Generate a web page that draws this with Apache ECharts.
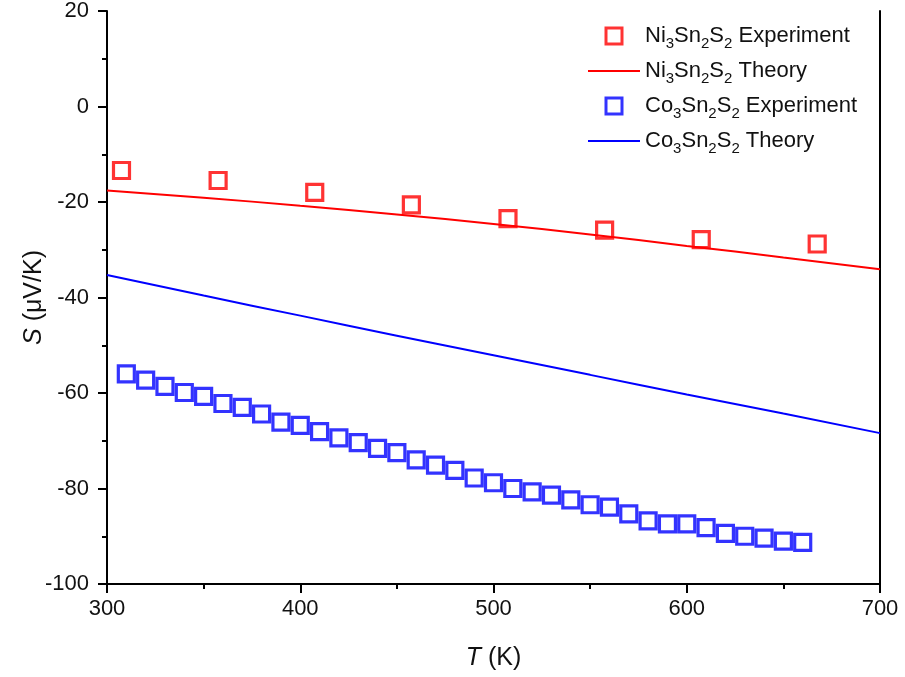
<!DOCTYPE html>
<html>
<head>
<meta charset="utf-8">
<script src="https://cdn.jsdelivr.net/npm/echarts@6/dist/echarts.min.js"></script>
<style>
  html, body { margin: 0; padding: 0; background: #fff; }
  #chart { width: 905px; height: 677px; }
</style>
</head>
<body>
<div id="chart"></div>
<script>
// Seebeck coefficient S (µV/K) versus temperature T (K)
const niExpT = [307.5, 357.5, 407.5, 457.5, 507.5, 557.5, 607.5, 667.5];
const niExpS = [-13.4, -15.5, -18.0, -20.6, -23.5, -25.9, -27.9, -28.8];

const theoryT   = [300, 350, 400, 450, 500, 550, 600, 650, 700];
const niTheoryS = [-17.6, -19.1, -20.8, -22.6, -24.6, -26.8, -29.2, -31.6, -34.1];
const coTheoryS = [-35.3, -39.6, -43.8, -48.0, -52.1, -56.2, -60.3, -64.3, -68.4];

const coExpT = [310, 320, 330, 340, 350, 360, 370, 380, 390, 400, 410, 420,
                430, 440, 450, 460, 470, 480, 490, 500, 510, 520, 530, 540,
                550, 560, 570, 580, 590, 600, 610, 620, 630, 640, 650, 660];
const coExpS = [-56.0, -57.3, -58.6, -59.9, -60.7, -62.2, -63.0, -64.4, -66.1, -66.8, -68.1, -69.4,
                -70.4, -71.6, -72.5, -74.0, -75.1, -76.2, -77.8, -78.8, -80.0, -80.7, -81.4, -82.4,
                -83.4, -83.9, -85.3, -86.8, -87.4, -87.4, -88.2, -89.4, -90.0, -90.4, -91.0, -91.3];

const seriesNames = ['Ni3Sn2S2 Experiment', 'Ni3Sn2S2 Theory', 'Co3Sn2S2 Experiment', 'Co3Sn2S2 Theory'];
const legendLabels = {
  'Ni3Sn2S2 Experiment': '{n|Ni}{s|3}{n|Sn}{s|2}{n|S}{s|2}{n| Experiment}',
  'Ni3Sn2S2 Theory':     '{n|Ni}{s|3}{n|Sn}{s|2}{n|S}{s|2}{n| Theory}',
  'Co3Sn2S2 Experiment': '{n|Co}{s|3}{n|Sn}{s|2}{n|S}{s|2}{n| Experiment}',
  'Co3Sn2S2 Theory':     '{n|Co}{s|3}{n|Sn}{s|2}{n|S}{s|2}{n| Theory}'
};

const RED = '#ff0000';
const BLUE = '#0000ff';
const FONT = '"Liberation Sans", Arial, sans-serif';

const pairs = (xs, ys) => xs.map((x, i) => [x, ys[i]]);
const squareIcon = 'path://M0,0H10V10H0Z';
const lineIcon = 'path://M0,0H104V4H0Z';

const chart = echarts.init(document.getElementById('chart'), null, { renderer: 'canvas' });

const axisCommon = {
  type: 'value',
  axisLine: { show: true, onZero: false, lineStyle: { color: '#000', width: 2 } },
  axisTick: { show: true, inside: false, length: 9, lineStyle: { color: '#000', width: 2 } },
  minorTick: { show: true, splitNumber: 2, length: 5, lineStyle: { color: '#000', width: 2 } },
  splitLine: { show: false },
  axisLabel: { color: '#111', fontSize: 22, fontFamily: FONT }
};

chart.setOption({
  backgroundColor: '#fff',
  animation: false,
  grid: { left: 107, right: 25, top: 11, bottom: 93, containLabel: false },
  xAxis: [
    Object.assign({}, axisCommon, {
      min: 300, max: 700, interval: 100,
      axisLabel: Object.assign({}, axisCommon.axisLabel, { margin: 14 }),
      name: '{i|T} (K)',
      nameLocation: 'middle',
      nameGap: 62,
      nameMoveOverlap: false,
      nameTextStyle: {
        fontSize: 25, fontFamily: FONT, color: '#111',
        rich: { i: { fontSize: 25, fontStyle: 'italic', fontFamily: FONT, color: '#111' } }
      }
    })
  ],
  yAxis: [
    Object.assign({}, axisCommon, {
      min: -100, max: 20, interval: 20,
      axisLabel: Object.assign({}, axisCommon.axisLabel, { margin: 18 }),
      name: '{i|S} (μV/K)',
      nameLocation: 'middle',
      nameGap: 60,
      nameMoveOverlap: false,
      nameTextStyle: {
        fontSize: 25, fontFamily: FONT, color: '#111',
        rich: { i: { fontSize: 25, fontStyle: 'italic', fontFamily: FONT, color: '#111' } }
      }
    }),
    {
      type: 'value', position: 'right', min: -100, max: 20, interval: 20,
      axisLine: { show: true, onZero: false, lineStyle: { color: '#000', width: 2 } },
      axisTick: { show: false }, axisLabel: { show: false }, splitLine: { show: false }
    }
  ],
  legend: {
    orient: 'vertical',
    left: 588,
    top: 21,
    padding: 0,
    itemWidth: 52,
    itemHeight: 16,
    itemGap: 5,
    align: 'left',
    data: [
      { name: seriesNames[0], icon: squareIcon, itemStyle: { color: 'rgba(0,0,0,0)', borderColor: RED, borderWidth: 3 } },
      { name: seriesNames[1], icon: lineIcon, itemStyle: { color: RED, borderWidth: 0 } },
      { name: seriesNames[2], icon: squareIcon, itemStyle: { color: 'rgba(0,0,0,0)', borderColor: BLUE, borderWidth: 3 } },
      { name: seriesNames[3], icon: lineIcon, itemStyle: { color: BLUE, borderWidth: 0 } }
    ],
    formatter: name => legendLabels[name],
    textStyle: {
      fontFamily: FONT,
      rich: {
        n: { fontSize: 22, fontFamily: FONT, color: '#111', lineHeight: 24 },
        s: { fontSize: 15, fontFamily: FONT, color: '#111', lineHeight: 14, padding: [15, 0, 0, 0] }
      }
    }
  },
  series: [
    {
      name: seriesNames[0],
      type: 'scatter',
      data: pairs(niExpT, niExpS),
      symbol: 'rect',
      symbolSize: 16,
      itemStyle: { color: 'rgba(0,0,0,0)', borderColor: RED, borderWidth: 3.2 },
      z: 3
    },
    {
      name: seriesNames[1],
      type: 'line',
      data: pairs(theoryT, niTheoryS),
      smooth: true,
      symbol: 'none',
      lineStyle: { color: RED, width: 2 },
      itemStyle: { color: RED },
      z: 2
    },
    {
      name: seriesNames[2],
      type: 'scatter',
      data: pairs(coExpT, coExpS),
      symbol: 'rect',
      symbolSize: 16,
      itemStyle: { color: 'rgba(0,0,0,0)', borderColor: BLUE, borderWidth: 3.2 },
      z: 3
    },
    {
      name: seriesNames[3],
      type: 'line',
      data: pairs(theoryT, coTheoryS),
      smooth: true,
      symbol: 'none',
      lineStyle: { color: BLUE, width: 2 },
      itemStyle: { color: BLUE },
      z: 2
    }
  ]
});
</script>
</body>
</html>
